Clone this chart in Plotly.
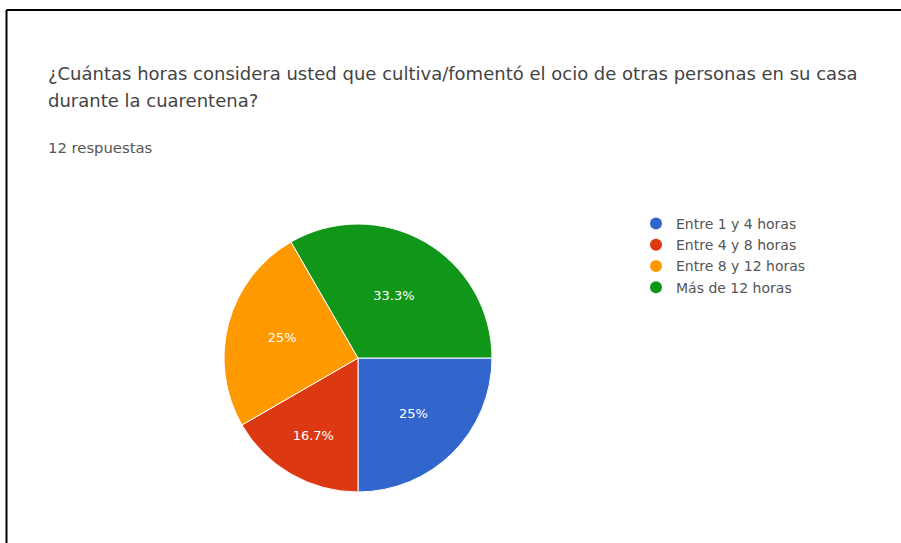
import plotly.graph_objects as go

title_lines = [
    "¿Cuántas horas considera usted que cultiva/fomentó el ocio de otras personas en su casa",
    "durante la cuarentena?",
]
subtitle = "12 respuestas"
categories = ["Entre 1 y 4 horas", "Entre 4 y 8 horas", "Entre 8 y 12 horas", "Más de 12 horas"]
values = [3, 2, 3, 4]
colors = ["#3366cc", "#dc3912", "#ff9900", "#109618"]

W, H = 901, 543
FONT = "DejaVu Sans, Arial"
total = sum(values)
def fmt(v):
    p = round(v / total * 100, 1)
    return (f"{p:.1f}".rstrip("0").rstrip(".")) + "%"
texts = [fmt(v) for v in values]

cx, cy, r = 358, 358, 134
fig = go.Figure()
fig.add_trace(go.Pie(
    labels=categories, values=values, sort=False, direction="clockwise", rotation=90,
    marker=dict(colors=colors, line=dict(color="white", width=1)),
    text=texts, textinfo="text", textposition="inside", insidetextorientation="horizontal",
    textfont=dict(color="white", size=13, family=FONT),
    showlegend=False, hoverinfo="label+percent",
    domain=dict(x=[(cx - r) / W, (cx + r) / W], y=[1 - (cy + r) / H, 1 - (cy - r) / H]),
))
for c, col in zip(categories, colors):
    fig.add_trace(go.Scatter(x=[None], y=[None], mode="markers", name=c,
                             marker=dict(symbol="circle", size=12, color=col)))

fig.update_layout(
    width=W, height=H, margin=dict(l=0, r=0, t=0, b=0),
    paper_bgcolor="white", plot_bgcolor="white",
    xaxis=dict(visible=False), yaxis=dict(visible=False),
    font=dict(family=FONT, color="#444"),
    legend=dict(x=636 / W, y=1 - 208 / H, xanchor="left", yanchor="top",
                font=dict(size=14, color="#555", family=FONT), tracegroupgap=0, itemwidth=30,
                bgcolor="rgba(0,0,0,0)"),
    shapes=[
        dict(type="line", xref="paper", yref="paper", x0=6.5 / W, x1=1, y0=1 - 10 / H, y1=1 - 10 / H,
             line=dict(color="black", width=2)),
        dict(type="line", xref="paper", yref="paper", x0=6.5 / W, x1=6.5 / W, y0=0, y1=1 - 10 / H,
             line=dict(color="black", width=2)),
    ],
    annotations=[
        dict(text=title_lines[0], x=46 / W, y=1 - 73 / H, xref="paper", yref="paper",
             xanchor="left", yanchor="middle", showarrow=False, font=dict(size=18, color="#444")),
        dict(text=title_lines[1], x=46 / W, y=1 - 101 / H, xref="paper", yref="paper",
             xanchor="left", yanchor="middle", showarrow=False, font=dict(size=18, color="#444")),
        dict(text=subtitle, x=46 / W, y=1 - 147 / H, xref="paper", yref="paper",
             xanchor="left", yanchor="middle", showarrow=False, font=dict(size=14.8, color="#555")),
    ],
)
fig.write_html("out.html")
